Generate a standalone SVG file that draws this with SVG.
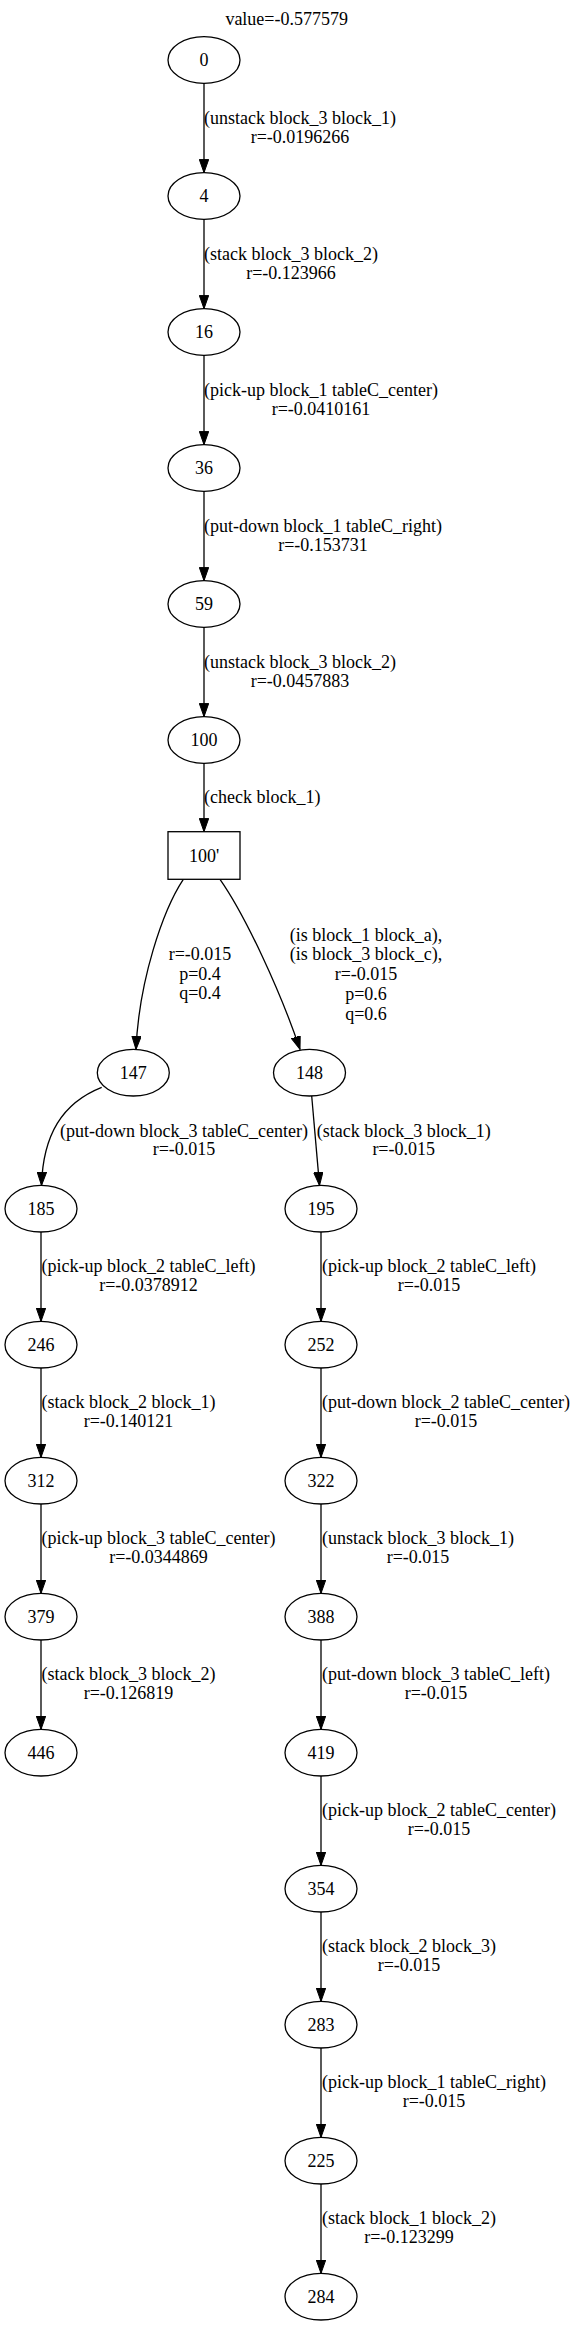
<svg xmlns="http://www.w3.org/2000/svg" width="576" height="2327" viewBox="0 0 576 2327">
<style>
text{font-family:"Liberation Serif","Times New Roman",serif;font-size:18px;fill:#000;text-anchor:middle}
.n{fill:#fff;stroke:#000;stroke-width:1.3}
.e{fill:none;stroke:#000;stroke-width:1.3;marker-end:url(#ah)}
</style>
<defs>
<marker id="ah" markerUnits="userSpaceOnUse" markerWidth="14" markerHeight="10" refX="13.3" refY="4.7" orient="auto">
<path d="M0,0 L13.3,4.7 L0,9.4 Z" fill="#000" stroke="#000" stroke-width="1"/>
</marker>
</defs>
<rect width="576" height="2327" fill="#fff"/>
<text x="286.7" y="25">value=-0.577579</text>
<g id="connectors">
<path class="e" d="M204,83.3 L204,172.7"/>
<path class="e" d="M204,219.3 L204,308.7"/>
<path class="e" d="M204,355.3 L204,444.7"/>
<path class="e" d="M204,491.3 L204,580.7"/>
<path class="e" d="M204,627.3 L204,716.7"/>
<path class="e" d="M204,763.3 L204,831.7"/>
<path class="e" d="M183.3,879.3 C163,910 139,980 136,1049.4"/>
<path class="e" d="M220,879.3 C245,915 280,990 300,1049.4"/>
<path class="e" d="M101.7,1087.3 C62,1103 43,1135 41.5,1185.4"/>
<path class="e" d="M311.7,1096 L319.5,1185.4"/>
<path class="e" d="M41,1232 L41,1321.4"/>
<path class="e" d="M41,1368 L41,1457.4"/>
<path class="e" d="M41,1504 L41,1593.4"/>
<path class="e" d="M41,1640 L41,1729.4"/>
<path class="e" d="M321,1232 L321,1321.4"/>
<path class="e" d="M321,1368 L321,1457.4"/>
<path class="e" d="M321,1504 L321,1593.4"/>
<path class="e" d="M321,1640 L321,1729.4"/>
<path class="e" d="M321,1776 L321,1865.4"/>
<path class="e" d="M321,1912 L321,2001.4"/>
<path class="e" d="M321,2048 L321,2137.4"/>
<path class="e" d="M321,2184 L321,2273.4"/>
<text x="300" y="123.7">(unstack block_3 block_1)</text>
<text x="300" y="142.5">r=-0.0196266</text>
<text x="291" y="259.7">(stack block_3 block_2)</text>
<text x="291" y="278.5">r=-0.123966</text>
<text x="321" y="395.7">(pick-up block_1 tableC_center)</text>
<text x="321" y="414.5">r=-0.0410161</text>
<text x="323" y="531.7">(put-down block_1 tableC_right)</text>
<text x="323" y="550.5">r=-0.153731</text>
<text x="300" y="667.7">(unstack block_3 block_2)</text>
<text x="300" y="686.5">r=-0.0457883</text>
<text x="262.2" y="802.5">(check block_1)</text>
<text x="200" y="960">r=-0.015</text>
<text x="200" y="979.5">p=0.4</text>
<text x="200" y="999">q=0.4</text>
<text x="366" y="940.5">(is block_1 block_a),</text>
<text x="366" y="960.3">(is block_3 block_c),</text>
<text x="366" y="980">r=-0.015</text>
<text x="366" y="999.8">p=0.6</text>
<text x="366" y="1019.5">q=0.6</text>
<text x="184" y="1136.7">(put-down block_3 tableC_center)</text>
<text x="184" y="1155.2">r=-0.015</text>
<text x="403.7" y="1136.7">(stack block_3 block_1)</text>
<text x="403.7" y="1155.2">r=-0.015</text>
<text x="148.5" y="1272.4">(pick-up block_2 tableC_left)</text>
<text x="148.5" y="1291.2">r=-0.0378912</text>
<text x="429" y="1272.4">(pick-up block_2 tableC_left)</text>
<text x="429" y="1291.2">r=-0.015</text>
<text x="128.5" y="1408.4">(stack block_2 block_1)</text>
<text x="128.5" y="1427.2">r=-0.140121</text>
<text x="446" y="1408.4">(put-down block_2 tableC_center)</text>
<text x="446" y="1427.2">r=-0.015</text>
<text x="158.5" y="1544.4">(pick-up block_3 tableC_center)</text>
<text x="158.5" y="1563.2">r=-0.0344869</text>
<text x="418" y="1544.4">(unstack block_3 block_1)</text>
<text x="418" y="1563.2">r=-0.015</text>
<text x="128.5" y="1680.4">(stack block_3 block_2)</text>
<text x="128.5" y="1699.2">r=-0.126819</text>
<text x="436" y="1680.4">(put-down block_3 tableC_left)</text>
<text x="436" y="1699.2">r=-0.015</text>
<text x="439" y="1816.4">(pick-up block_2 tableC_center)</text>
<text x="439" y="1835.2">r=-0.015</text>
<text x="409" y="1952.4">(stack block_2 block_3)</text>
<text x="409" y="1971.2">r=-0.015</text>
<text x="434" y="2088.4">(pick-up block_1 tableC_right)</text>
<text x="434" y="2107.2">r=-0.015</text>
<text x="409" y="2224.4">(stack block_1 block_2)</text>
<text x="409" y="2243.2">r=-0.123299</text>
</g>
<g id="n0"><ellipse class="n" cx="204" cy="60" rx="36" ry="23.3"/><text x="204" y="66">0</text></g>
<g id="n4"><ellipse class="n" cx="204" cy="196" rx="36" ry="23.3"/><text x="204" y="202">4</text></g>
<g id="n16"><ellipse class="n" cx="204" cy="332" rx="36" ry="23.3"/><text x="204" y="338">16</text></g>
<g id="n36"><ellipse class="n" cx="204" cy="468" rx="36" ry="23.3"/><text x="204" y="474">36</text></g>
<g id="n59"><ellipse class="n" cx="204" cy="604" rx="36" ry="23.3"/><text x="204" y="610">59</text></g>
<g id="n100"><ellipse class="n" cx="204" cy="740" rx="36" ry="23.3"/><text x="204" y="746">100</text></g>
<g id="n100p"><rect class="n" x="168" y="831.7" width="72" height="47.6"/><text x="204" y="861.5">100'</text></g>
<g id="n147"><ellipse class="n" cx="133.3" cy="1072.7" rx="36" ry="23.3"/><text x="133.3" y="1078.7">147</text></g>
<g id="n148"><ellipse class="n" cx="309.5" cy="1072.7" rx="36" ry="23.3"/><text x="309.5" y="1078.7">148</text></g>
<g id="n185"><ellipse class="n" cx="41" cy="1208.7" rx="36" ry="23.3"/><text x="41" y="1214.7">185</text></g>
<g id="n246"><ellipse class="n" cx="41" cy="1344.7" rx="36" ry="23.3"/><text x="41" y="1350.7">246</text></g>
<g id="n312"><ellipse class="n" cx="41" cy="1480.7" rx="36" ry="23.3"/><text x="41" y="1486.7">312</text></g>
<g id="n379"><ellipse class="n" cx="41" cy="1616.7" rx="36" ry="23.3"/><text x="41" y="1622.7">379</text></g>
<g id="n446"><ellipse class="n" cx="41" cy="1752.7" rx="36" ry="23.3"/><text x="41" y="1758.7">446</text></g>
<g id="n195"><ellipse class="n" cx="321" cy="1208.7" rx="36" ry="23.3"/><text x="321" y="1214.7">195</text></g>
<g id="n252"><ellipse class="n" cx="321" cy="1344.7" rx="36" ry="23.3"/><text x="321" y="1350.7">252</text></g>
<g id="n322"><ellipse class="n" cx="321" cy="1480.7" rx="36" ry="23.3"/><text x="321" y="1486.7">322</text></g>
<g id="n388"><ellipse class="n" cx="321" cy="1616.7" rx="36" ry="23.3"/><text x="321" y="1622.7">388</text></g>
<g id="n419"><ellipse class="n" cx="321" cy="1752.7" rx="36" ry="23.3"/><text x="321" y="1758.7">419</text></g>
<g id="n354"><ellipse class="n" cx="321" cy="1888.7" rx="36" ry="23.3"/><text x="321" y="1894.7">354</text></g>
<g id="n283"><ellipse class="n" cx="321" cy="2024.7" rx="36" ry="23.3"/><text x="321" y="2030.7">283</text></g>
<g id="n225"><ellipse class="n" cx="321" cy="2160.7" rx="36" ry="23.3"/><text x="321" y="2166.7">225</text></g>
<g id="n284"><ellipse class="n" cx="321" cy="2296.7" rx="36" ry="23.3"/><text x="321" y="2302.7">284</text></g>
</svg>
